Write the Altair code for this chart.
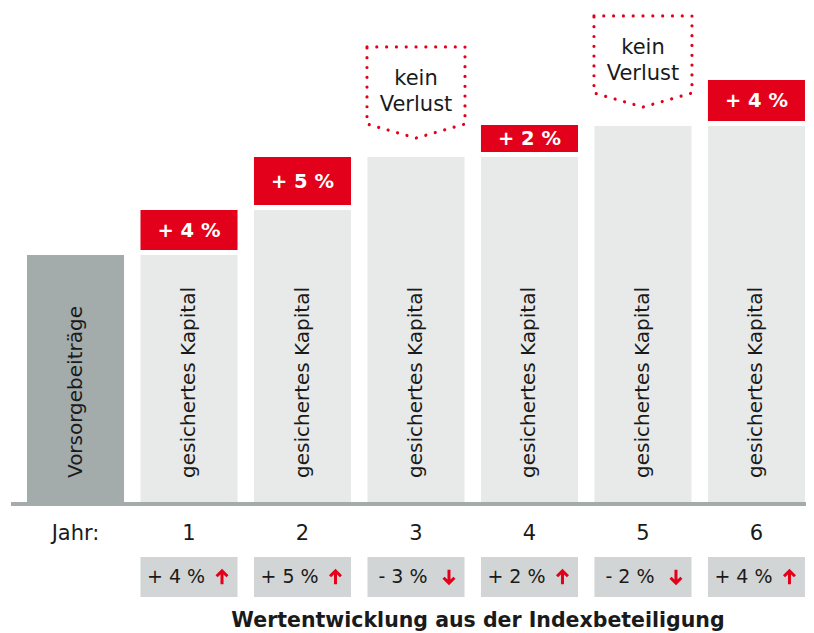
import altair as alt
import pandas as pd

# ---- data ----
categories = ["Vorsorgebeiträge", "1", "2", "3", "4", "5", "6"]
row_labels = ["Jahr:", "1", "2", "3", "4", "5", "6"]
bar_texts = ["Vorsorgebeiträge"] + ["gesichertes Kapital"] * 6
kinds = ["beitrag"] + ["kapital"] * 6
capital = [248, 248, 293, 346, 346, 377, 377]
gain_top = [None, 293, 346, None, 378, None, 423]
gain_labels = [None, "+ 4 %", "+ 5 %", None, "+ 2 %", None, "+ 4 %"]
no_loss_level = [None, None, None, 410.5, None, 441.5, None]
no_loss_text = [None, None, None, "kein\nVerlust", None, "kein\nVerlust", None]
index_change = [None, 4, 5, -3, 2, -2, 4]
title_text = "Wertentwicklung aus der Indexbeteiligung"

df = pd.DataFrame({
    "cat": categories,
    "row_label": row_labels,
    "bar_text": bar_texts,
    "kind": kinds,
    "capital": capital,
    "gain_top": gain_top,
    "gain_label": gain_labels,
    "no_loss": no_loss_level,
    "no_loss_text": no_loss_text,
    "chg": index_change,
})

RED = "#e2001a"
TXT = "#1a1a1a"
FONT = "DejaVu Sans"

xscale = alt.Scale(domain=categories, paddingInner=0.145, paddingOuter=0.075, align=0.94)
yscale = alt.Scale(domain=[-130, 495], nice=False, zero=False)
X = alt.X("cat:N", sort=categories, scale=xscale, axis=None)

base = alt.Chart(df).encode(x=X)

bars = base.mark_bar().encode(
    y=alt.Y("capital:Q", scale=yscale, axis=None),
    y2=alt.Y2Datum(0),
    color=alt.Color("kind:N", scale=alt.Scale(domain=["beitrag", "kapital"],
                                              range=["#a3abab", "#e8e9e9"]), legend=None),
)

bar_labels = base.mark_text(angle=270, align="left", baseline="middle",
                            fontSize=20, font=FONT, color=TXT).encode(
    y=alt.YDatum(25, scale=yscale),
    text="bar_text:N",
)

gains = base.transform_filter("datum.gain_top != null").mark_bar(
    color=RED, y2Offset=-5).encode(
    y=alt.Y("gain_top:Q", scale=yscale),
    y2="capital:Q",
)

gain_text = base.transform_filter("datum.gain_top != null").transform_calculate(
    mid="(datum.gain_top + datum.capital) / 2").mark_text(
    font=FONT, fontWeight="bold", fontSize=19.5, color="white",
    baseline="middle", yOffset=-2).encode(
    y=alt.Y("mid:Q", scale=yscale),
    text="gain_label:N",
)

shape_path = "M-1,-0.93L1,-0.93L1,0.643L0,0.93L-1,0.643Z"
no_loss_box = base.transform_filter("datum.no_loss != null").mark_point(
    shape=shape_path, size=98 * 98, filled=False, stroke=RED, strokeWidth=3.2,
    strokeDash=[0.01, 9.8], strokeCap="round", opacity=1).encode(
    y=alt.Y("no_loss:Q", scale=yscale),
)

no_loss_label = base.transform_filter("datum.no_loss != null").mark_text(
    font=FONT, fontSize=21, color=TXT, lineBreak="\n", lineHeight=26,
    baseline="middle", yOffset=-14).encode(
    y=alt.Y("no_loss:Q", scale=yscale),
    text="no_loss_text:N",
)

year_labels = base.mark_text(font=FONT, fontSize=21, color=TXT, baseline="middle").encode(
    y=alt.YDatum(-31, scale=yscale),
    text="row_label:N",
)

chg_boxes = base.transform_filter("datum.chg != null").mark_bar(color="#d2d5d5").encode(
    y=alt.YDatum(-54, scale=yscale),
    y2=alt.Y2Datum(-94),
)

chg_text = base.transform_filter("datum.chg != null").transform_calculate(
    lbl="(datum.chg > 0 ? '+' : '-') + ' ' + abs(datum.chg) + ' %'").mark_text(
    font=FONT, fontSize=19, color=TXT, baseline="middle", xOffset=-13).encode(
    y=alt.YDatum(-74, scale=yscale),
    text="lbl:N",
)

up_path = "M0,1L0,-0.85M-0.75,-0.1L0,-0.85L0.75,-0.1"
down_path = "M0,-1L0,0.85M-0.75,0.1L0,0.85L0.75,0.1"
chg_arrow = base.transform_filter("datum.chg != null").transform_calculate(
    dir="datum.chg > 0 ? 'up' : 'down'").mark_point(
    filled=False, stroke=RED, strokeWidth=3, size=210, opacity=1,
    strokeJoin="miter", xOffset=33).encode(
    y=alt.YDatum(-74, scale=yscale),
    shape=alt.Shape("dir:N", scale=alt.Scale(domain=["up", "down"],
                                             range=[up_path, down_path]), legend=None),
)

one = pd.DataFrame({"t": [title_text]})
baseline_rule = alt.Chart(one).mark_rule(color="#a3abab", strokeWidth=4, yOffset=1).encode(
    x=alt.value(0), x2=alt.value(795),
    y=alt.YDatum(0, scale=yscale),
)

title = alt.Chart(one).mark_text(font=FONT, fontWeight="bold", fontSize=20.5,
                                 color=TXT, baseline="middle").encode(
    x=alt.value(467),
    y=alt.YDatum(-118, scale=yscale),
    text="t:N",
)

chart = alt.layer(
    bars, gains, baseline_rule, bar_labels, gain_text, no_loss_box, no_loss_label,
    year_labels, chg_boxes, chg_text, chg_arrow, title,
).properties(
    width=795, height=625, autosize="none",
    padding={"left": 3, "top": 0, "right": 0, "bottom": 0},
    background="white",
).configure_view(stroke=None)

chart.save("out.html", embed_options={"renderer": "svg", "actions": False})
